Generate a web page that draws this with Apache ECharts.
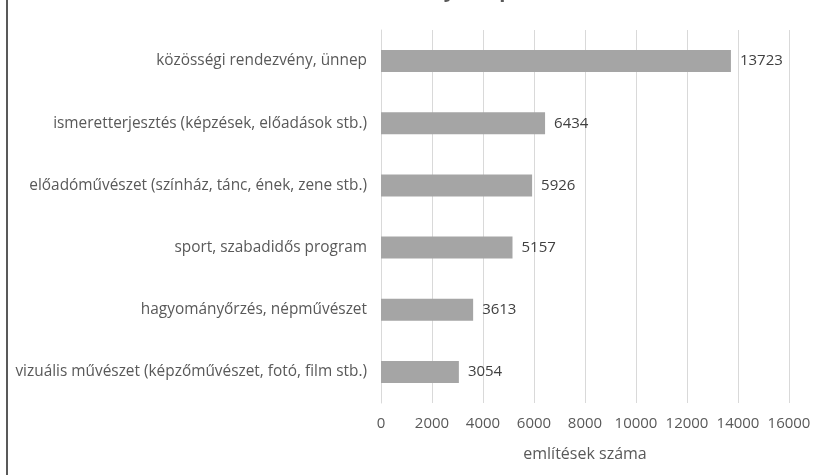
<!DOCTYPE html>
<html>
<head>
    <meta charset="utf-8">
    <title>ECharts</title>
    <script src="https://cdn.jsdelivr.net/npm/echarts@6/dist/echarts.min.js"></script>
    <style>
        body { margin: 0; background: #fff; }
    </style>
</head>
<body>
<div id="main" style="height: 475px; width: 815px;"></div>
<script type="text/javascript">
    // data, top to bottom
    var categories = [
        'közösségi rendezvény, ünnep',
        'ismeretterjesztés (képzések, előadások stb.)',
        'előadóművészet (színház, tánc, ének, zene stb.)',
        'sport, szabadidős program',
        'hagyományőrzés, népművészet',
        'vizuális művészet (képzőművészet, fotó, film stb.)'
    ];
    var values = [13723, 6434, 5926, 5157, 3613, 3054];
    var axisName = 'említések száma';
    var titleText = 'Rendezvények típusai';

    var myChart = echarts.init(document.getElementById('main'));
    var font = '"Open Sans", Lato, sans-serif';

    var option = {
        animation: false,
        backgroundColor: '#ffffff',
        // the title sits above the visible area; only its descenders show
        title: {
            text: titleText,
            left: 330,
            top: -24,
            textStyle: {
                fontFamily: font,
                fontSize: 20,
                fontWeight: 'bold',
                color: '#595959'
            }
        },
        graphic: [
            {
                type: 'line',
                shape: { x1: 7, y1: 0, x2: 7, y2: 475 },
                style: { stroke: '#595959', lineWidth: 2 }
            }
        ],
        grid: {
            left: 381,
            right: 26,
            top: 30,
            bottom: 72
        },
        xAxis: {
            type: 'value',
            min: 0,
            max: 16000,
            interval: 2000,
            name: axisName,
            nameLocation: 'middle',
            nameGap: 43,
            nameTextStyle: {
                fontFamily: font,
                fontSize: 16,
                color: '#595959'
            },
            axisLine: { show: false },
            axisTick: { show: false },
            axisLabel: {
                margin: 13,
                fontFamily: font,
                fontSize: 15,
                color: '#595959',
                formatter: function (v) { return String(v); }
            },
            splitLine: {
                lineStyle: { color: '#d9d9d9', width: 1 }
            }
        },
        yAxis: {
            type: 'category',
            data: categories,
            inverse: true,
            axisLine: { show: true, lineStyle: { color: '#d9d9d9', width: 1 } },
            axisTick: { show: false },
            axisLabel: {
                margin: 14,
                fontFamily: font,
                fontSize: 15.4,
                color: '#595959'
            }
        },
        series: [
            {
                type: 'bar',
                data: values,
                barWidth: 22,
                itemStyle: { color: '#a5a5a5' },
                label: {
                    show: true,
                    position: 'right',
                    distance: 9,
                    fontFamily: font,
                    fontSize: 15,
                    color: '#404040'
                }
            }
        ]
    };

    myChart.setOption(option);
</script>
</body>
</html>
